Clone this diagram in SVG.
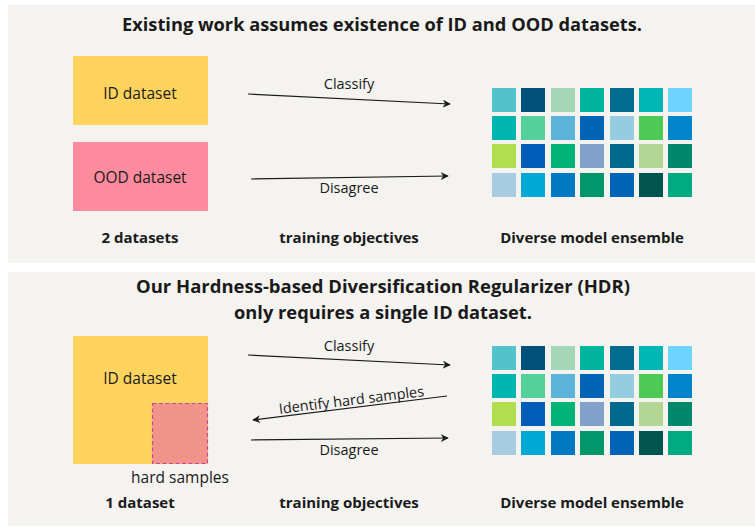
<svg xmlns="http://www.w3.org/2000/svg" width="755" height="527" viewBox="0 0 755 527">
<defs>
<style>
.panel{fill:#F4F3EF}
.t{font-family:"Open Sans","Liberation Sans",sans-serif;fill:#1a1a1a}
.title{font-size:18px;font-weight:bold;text-anchor:middle}
.lab{font-size:15px;font-weight:bold;text-anchor:middle}
.box{font-size:15.5px;text-anchor:middle}
.edge{font-size:14.5px;text-anchor:middle}
.arr{stroke:#1a1a1a;stroke-width:1.2;fill:none;marker-end:url(#ah)}
</style>
<marker id="ah" viewBox="0 0 10 10" refX="9" refY="5" markerWidth="8" markerHeight="8" markerUnits="userSpaceOnUse" orient="auto">
<path d="M0,0 L10,5 L0,10 L3,5 Z" fill="#1a1a1a"/>
</marker>
<g id="grid">
<rect x="0" y="0" width="24" height="24" fill="#52C3CB"/><rect x="29" y="0" width="24" height="24" fill="#00507A"/><rect x="59" y="0" width="24" height="24" fill="#A5D6B5"/><rect x="88" y="0" width="24" height="24" fill="#00B39C"/><rect x="118" y="0" width="24" height="24" fill="#006C8F"/><rect x="147" y="0" width="24" height="24" fill="#00B7B5"/><rect x="176" y="0" width="24" height="24" fill="#6DD3FF"/>
<rect x="0" y="28" width="24" height="24" fill="#00B5B0"/><rect x="29" y="28" width="24" height="24" fill="#52D19A"/><rect x="59" y="28" width="24" height="24" fill="#5CB3DA"/><rect x="88" y="28" width="24" height="24" fill="#0064B6"/><rect x="118" y="28" width="24" height="24" fill="#94CDE0"/><rect x="147" y="28" width="24" height="24" fill="#4CCA53"/><rect x="176" y="28" width="24" height="24" fill="#0084CC"/>
<rect x="0" y="56" width="24" height="24" fill="#B0DE4F"/><rect x="29" y="56" width="24" height="24" fill="#005EB8"/><rect x="59" y="56" width="24" height="24" fill="#00B377"/><rect x="88" y="56" width="24" height="24" fill="#82A1CA"/><rect x="118" y="56" width="24" height="24" fill="#006A8C"/><rect x="147" y="56" width="24" height="24" fill="#B2D794"/><rect x="176" y="56" width="24" height="24" fill="#00876C"/>
<rect x="0" y="85" width="24" height="24" fill="#A8CCDF"/><rect x="29" y="85" width="24" height="24" fill="#00A8D4"/><rect x="59" y="85" width="24" height="24" fill="#0078C2"/><rect x="88" y="85" width="24" height="24" fill="#00976A"/><rect x="118" y="85" width="24" height="24" fill="#0064B6"/><rect x="147" y="85" width="24" height="24" fill="#005550"/><rect x="176" y="85" width="24" height="24" fill="#00AB82"/>
</g>
</defs>
<rect width="755" height="527" fill="#ffffff"/>
<rect class="panel" x="8" y="5" width="747" height="258"/>
<rect class="panel" x="8" y="272" width="747" height="254"/>

<text class="t title" x="382" y="31" textLength="520" lengthAdjust="spacingAndGlyphs">Existing work assumes existence of ID and OOD datasets.</text>
<text class="t title" x="383" y="293" textLength="494" lengthAdjust="spacingAndGlyphs">Our Hardness-based Diversification Regularizer (HDR)</text>
<text class="t title" x="383" y="319" textLength="298" lengthAdjust="spacingAndGlyphs">only requires a single ID dataset.</text>

<g id="top-id"><rect x="73" y="56" width="135" height="69" fill="#FFD45E"/><text class="t box" x="140" y="99">ID dataset</text></g>
<g id="top-ood"><rect x="73" y="142" width="135" height="69" fill="#FF8C9E"/><text class="t box" x="140" y="183">OOD dataset</text></g>
<g id="top-ensemble"><use href="#grid" x="492" y="88"/></g>

<g id="bot-id"><rect x="73" y="336" width="135" height="128" fill="#FFD45E"/><text class="t box" x="140" y="384">ID dataset</text></g>
<g id="bot-hard"><rect x="152.5" y="403.5" width="55" height="60" fill="#F0938A" stroke="#CC44A0" stroke-width="1.2" stroke-dasharray="4,2.5"/><text class="t box" x="180" y="483" font-size="14.5">hard samples</text></g>
<g id="bot-ensemble"><use href="#grid" x="492" y="346"/></g>

<g id="connectors">
<line class="arr" x1="248" y1="94" x2="450" y2="104"/>
<line class="arr" x1="251" y1="179" x2="448" y2="176"/>
<line class="arr" x1="248" y1="355" x2="450" y2="365"/>
<line class="arr" x1="447" y1="396" x2="253" y2="420"/>
<line class="arr" x1="251" y1="440" x2="448" y2="438"/>
</g>

<g id="edge-labels">
<text class="t edge" x="349" y="89">Classify</text>
<text class="t edge" x="349" y="193">Disagree</text>
<text class="t edge" x="349" y="351">Classify</text>
<text class="t edge" x="352" y="405" transform="rotate(-7 352 405)">Identify hard samples</text>
<text class="t edge" x="349" y="455">Disagree</text>
</g>

<g id="labels">
<text class="t lab" x="140" y="243">2 datasets</text>
<text class="t lab" x="349" y="243">training objectives</text>
<text class="t lab" x="592" y="243">Diverse model ensemble</text>
<text class="t lab" x="140" y="508">1 dataset</text>
<text class="t lab" x="349" y="508">training objectives</text>
<text class="t lab" x="592" y="508">Diverse model ensemble</text>
</g>
</svg>
